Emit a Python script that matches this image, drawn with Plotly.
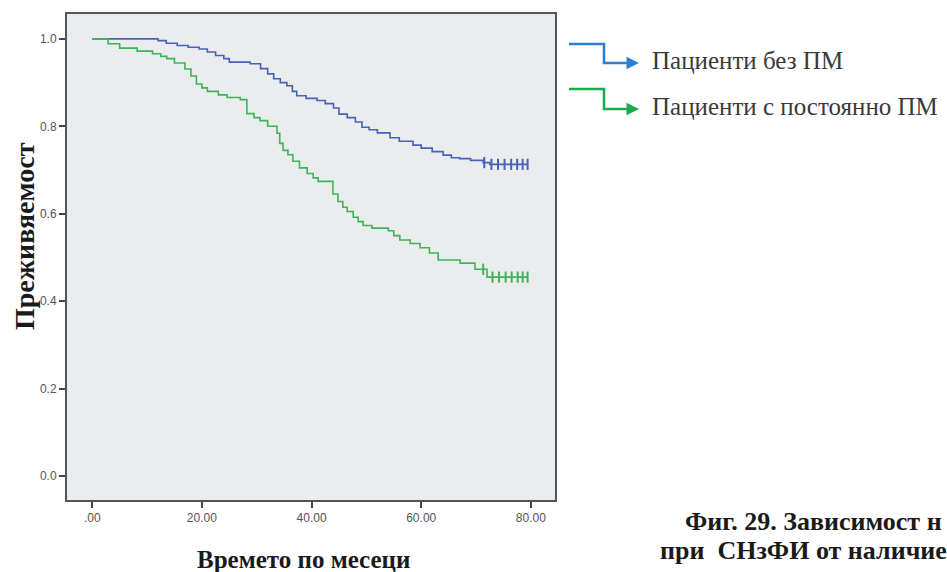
import plotly.graph_objects as go

# Kaplan-Meier survival estimates (months, cumulative survival)
blue_name = "Пациенти без ПМ"
blue_t = [0, 12, 13.5, 15.5, 17.5, 19.5, 21, 22.5, 24, 25, 28.8, 30.7, 32, 33.1,
          34.3, 35.5, 36.5, 37.3, 39, 41, 42.5, 44, 45, 46.5, 48, 49.2, 50.5, 52,
          54.3, 56, 58.5, 60, 62, 64, 65.5, 67, 69, 71.3, 72.5, 79.5]
blue_s = [1.0, 0.996, 0.990, 0.985, 0.981, 0.977, 0.970, 0.962, 0.955, 0.947, 0.943,
          0.932, 0.920, 0.909, 0.900, 0.893, 0.880, 0.870, 0.864, 0.859, 0.852, 0.842,
          0.828, 0.820, 0.810, 0.798, 0.792, 0.785, 0.774, 0.766, 0.757, 0.750, 0.742,
          0.734, 0.728, 0.726, 0.722, 0.717, 0.713, 0.713]
blue_cens_t = [71.5, 72.8, 74.0, 75.2, 76.4, 77.5, 78.5, 79.4]
blue_cens_s = [0.717, 0.713, 0.713, 0.713, 0.713, 0.713, 0.713, 0.713]

green_name = "Пациенти с постоянно ПМ"
green_t = [0, 2.9, 5, 8.2, 11, 12.5, 13.6, 15, 16.9, 18, 19, 20, 21, 23, 24.6, 27,
           28.2, 29.5, 30.6, 32, 33.7, 34.2, 34.8, 35.7, 36.6, 37.8, 39.2, 40.3, 41.2,
           43.9, 44.8, 45.7, 46.5, 47.6, 48.5, 49.4, 51, 54, 55, 56.1, 58, 59.8, 61.5,
           63.1, 67.1, 69.8, 72, 79.5]
green_s = [1.0, 0.989, 0.979, 0.972, 0.966, 0.960, 0.955, 0.945, 0.931, 0.915, 0.897,
           0.888, 0.880, 0.872, 0.866, 0.861, 0.829, 0.820, 0.813, 0.800, 0.784, 0.761,
           0.745, 0.735, 0.720, 0.705, 0.692, 0.682, 0.674, 0.645, 0.628, 0.615, 0.605,
           0.592, 0.582, 0.573, 0.567, 0.561, 0.550, 0.540, 0.532, 0.522, 0.510, 0.494,
           0.487, 0.473, 0.455, 0.455]
green_cens_t = [71.3, 73.0, 74.2, 75.4, 76.5, 77.6, 78.5, 79.4]
green_cens_s = [0.473, 0.455, 0.455, 0.455, 0.455, 0.455, 0.455, 0.455]

x_ticks = [0, 20, 40, 60, 80]
x_tick_text = [".00", "20.00", "40.00", "60.00", "80.00"]
y_ticks = [0.0, 0.2, 0.4, 0.6, 0.8, 1.0]
y_tick_text = ["0.0", "0.2", "0.4", "0.6", "0.8", "1.0"]

BLUE_LINE = "#4a61b9"
GREEN_LINE = "#3db457"
BLUE_KEY = "#2b7fd2"
GREEN_KEY = "#1daa4c"

W, H = 947, 572
L, R, T, B = 67, 392, 14, 72
PW, PH = W - L - R, H - T - B


def px(x):
    return (x - L) / PW


def py(y):
    return (H - B - y) / PH


fig = go.Figure()
for t, s, ct, cs, col, name in [
    (blue_t, blue_s, blue_cens_t, blue_cens_s, BLUE_LINE, blue_name),
    (green_t, green_s, green_cens_t, green_cens_s, GREEN_LINE, green_name),
]:
    fig.add_trace(go.Scatter(x=t, y=s, mode="lines", line_shape="hv",
                             line=dict(color=col, width=1.6), name=name,
                             showlegend=False))
    fig.add_trace(go.Scatter(x=ct, y=cs, mode="markers",
                             marker=dict(symbol="line-ns-open", size=8, color=col,
                                         line=dict(color=col, width=2)),
                             showlegend=False))

serif = "Liberation Serif, Times New Roman, serif"
sans = "Liberation Sans, Arial, sans-serif"

shapes = []
annotations = []
# legend keys: step line ending with an arrow
for col, y_top, y_bot, label, y_txt in [
    (BLUE_KEY, 44, 63, blue_name, 61),
    (GREEN_KEY, 89, 109, green_name, 106),
]:
    shapes.append(dict(type="path", xref="paper", yref="paper",
                       path=f"M {px(569)},{py(y_top)} L {px(604)},{py(y_top)} "
                            f"L {px(604)},{py(y_bot)} L {px(630)},{py(y_bot)}",
                       line=dict(color=col, width=2.5)))
    annotations.append(dict(xref="paper", yref="paper", x=px(639), y=py(y_bot),
                            ax=-12, ay=0, showarrow=True, arrowhead=2, arrowsize=1,
                            arrowwidth=2.5, arrowcolor=col, text=""))
    annotations.append(dict(xref="paper", yref="paper", x=px(650), y=py(y_txt),
                            xanchor="left", yanchor="middle", showarrow=False,
                            text=label, font=dict(family=serif, size=25, color="#3a3a3a")))

# axis titles
annotations.append(dict(xref="paper", yref="paper", x=px(303), y=py(559),
                        xanchor="center", yanchor="middle", showarrow=False,
                        text="<b>Времето по месеци</b>",
                        font=dict(family=serif, size=25, color="#1a1a1a")))
annotations.append(dict(xref="paper", yref="paper", x=px(24), y=py(236),
                        xanchor="center", yanchor="middle", showarrow=False,
                        textangle=-90, text="<b>Преживяемост</b>",
                        font=dict(family=serif, size=28, color="#1a1a1a")))
# figure caption
annotations.append(dict(xref="paper", yref="paper", x=px(683), y=py(521),
                        xanchor="left", yanchor="middle", showarrow=False,
                        text="<b>Фиг. 29. Зависимост н</b>",
                        font=dict(family=serif, size=26, color="#1a1a1a")))
annotations.append(dict(xref="paper", yref="paper", x=px(658), y=py(550),
                        xanchor="left", yanchor="middle", showarrow=False,
                        text="<b>при  СНзФИ от наличие</b>",
                        font=dict(family=serif, size=26, color="#1a1a1a")))

fig.update_layout(
    width=W, height=H,
    margin=dict(l=L, r=R, t=T, b=B),
    paper_bgcolor="white",
    plot_bgcolor="#ebeced",
    shapes=shapes,
    annotations=annotations,
    xaxis=dict(range=[-4.6, 84.4], tickvals=x_ticks, ticktext=x_tick_text,
               ticks="outside", ticklen=6, tickwidth=1.5, tickcolor="#444",
               showgrid=False, zeroline=False, showline=True, linecolor="#555",
               linewidth=2, mirror=True,
               tickfont=dict(family=sans, size=12, color="#555")),
    yaxis=dict(range=[-0.055, 1.057], tickvals=y_ticks, ticktext=y_tick_text,
               ticks="outside", ticklen=6, tickwidth=1.5, tickcolor="#444",
               showgrid=False, zeroline=False, showline=True, linecolor="#555",
               linewidth=2, mirror=True,
               tickfont=dict(family=sans, size=12, color="#555")),
)

fig.write_html("out.html")
